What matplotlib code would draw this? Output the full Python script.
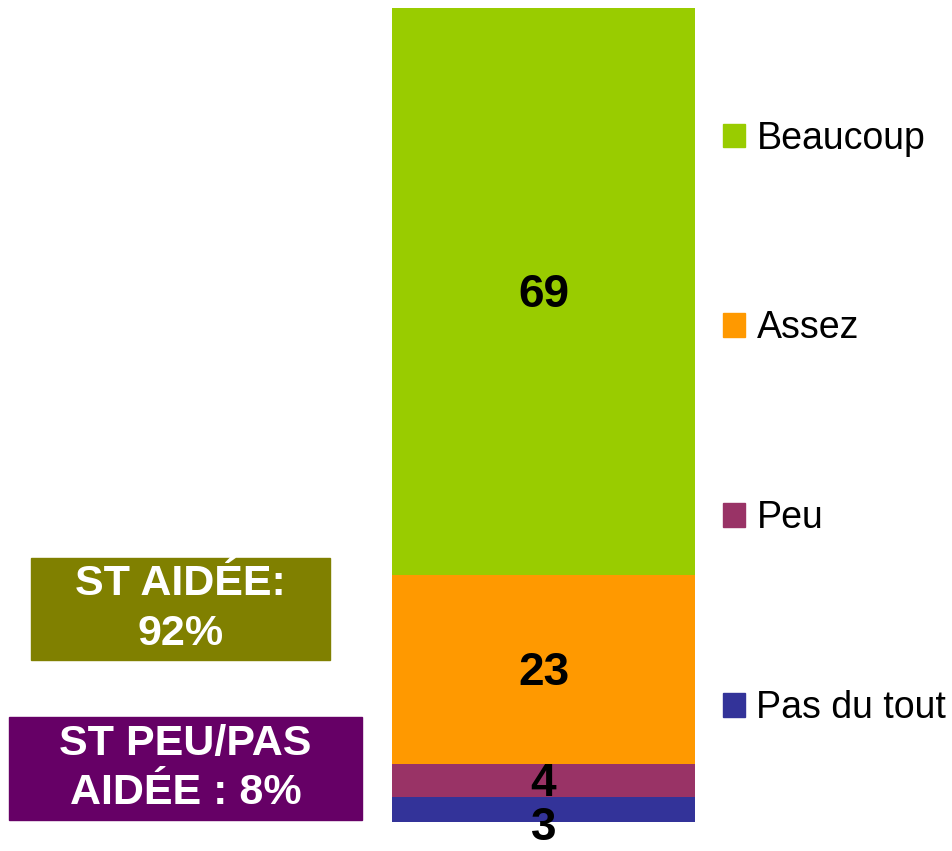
import matplotlib.pyplot as plt
from matplotlib.patches import Patch, Rectangle

plt.rcParams['font.family'] = ['Liberation Sans', 'DejaVu Sans']

categories = ['Pas du tout', 'Peu', 'Assez', 'Beaucoup']
values = [3, 4, 23, 69]
colors = ['#333399', '#993366', '#FF9900', '#99CC00']
# label y offset (in data units) relative to the segment centre
label_shift = [-2.2, -0.4, -0.4, -0.4]

W, H = 952, 851


def main():
    fig = plt.figure(figsize=(W / 100, H / 100), dpi=100)
    ax = fig.add_axes([392 / W, 29 / H, 303 / W, 814 / H])

    bottom = 0
    for cat, v, c, s in zip(categories, values, colors, label_shift):
        ax.bar(0, v, width=1, bottom=bottom, color=c, label=cat)
        ax.text(0, bottom + v / 2 + s, str(v), ha='center', va='center',
                fontsize=33, fontweight='bold', clip_on=False)
        bottom += v

    ax.set_xlim(-0.5, 0.5)
    ax.set_ylim(0, sum(values))
    ax.axis('off')

    handles = [Patch(color=c) for c in colors[::-1]]
    fig.legend(handles, categories[::-1], loc='upper left',
               bbox_to_anchor=(704 / W, 1 - 102 / H), frameon=False,
               fontsize=27, handlelength=0.6, handleheight=0.6,
               handletextpad=0.3, labelspacing=4.1, borderpad=0)

    # summary boxes
    boxes = [
        ('ST AIDÉE:\n92%', '#808000', (31, 558, 330, 660)),
        ('ST PEU/PAS\nAIDÉE : 8%', '#660066', (9, 717, 362, 820)),
    ]
    for txt, col, (x0, y0, x1, y1) in boxes:
        fig.patches.append(Rectangle((x0 / W, 1 - y1 / H), (x1 - x0) / W,
                                     (y1 - y0) / H, transform=fig.transFigure,
                                     color=col))
        fig.text((x0 + x1) / 2 / W, 1 - (y0 + y1) / 2 / H, txt, ha='center',
                 va='center', color='white', fontsize=31, fontweight='bold',
                 linespacing=1.3)

    fig.savefig('out.png', dpi=100)


if __name__ == "__main__":
    main()
